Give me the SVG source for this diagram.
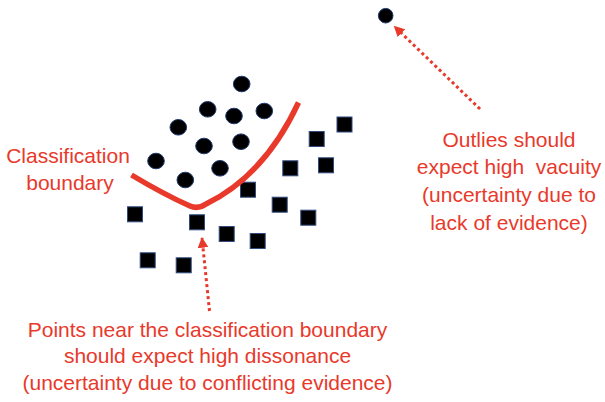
<svg xmlns="http://www.w3.org/2000/svg" width="605" height="402" viewBox="0 0 605 402">
<style>
.c{fill:#000;stroke:#1f3a6e;stroke-width:1}
.s{fill:#000;stroke:#2f4b80;stroke-width:1}
.t{font-family:"Liberation Sans",Arial,sans-serif;font-size:21px;fill:#e8392b;text-anchor:middle}
.d{fill:none;stroke:#e8392b;stroke-width:3;stroke-dasharray:3 3}
</style>
<defs>
<marker id="ah" viewBox="0 0 10 10" refX="9" refY="5" markerWidth="3.6" markerHeight="3.6" orient="auto" markerUnits="strokeWidth">
<path d="M0,0 L10,5 L0,10 z" fill="#e8392b"/>
</marker>
</defs>
<rect width="605" height="402" fill="#fff"/>
<g id="circles">
<ellipse class="c" cx="241.7" cy="84" rx="8.3" ry="7.8"/>
<ellipse class="c" cx="207.7" cy="109.3" rx="8.3" ry="7.8"/>
<ellipse class="c" cx="234" cy="116" rx="8.3" ry="7.8"/>
<ellipse class="c" cx="264.3" cy="111" rx="8.3" ry="7.8"/>
<ellipse class="c" cx="178.3" cy="127.3" rx="8.3" ry="7.8"/>
<ellipse class="c" cx="204" cy="146" rx="8.3" ry="7.8"/>
<ellipse class="c" cx="241" cy="141.7" rx="8.3" ry="7.8"/>
<ellipse class="c" cx="156" cy="161" rx="8.3" ry="7.8"/>
<ellipse class="c" cx="220" cy="168.3" rx="8.3" ry="7.8"/>
<ellipse class="c" cx="185.3" cy="180" rx="8.3" ry="7.8"/>
</g>
<g id="outlier">
<circle class="c" cx="385.7" cy="15.7" r="7.3"/>
</g>
<g id="squares">
<rect class="s" x="337" y="117" width="15" height="15"/>
<rect class="s" x="309.2" y="131.5" width="15" height="15"/>
<rect class="s" x="282.8" y="160.8" width="15" height="15"/>
<rect class="s" x="318.5" y="157.8" width="15" height="15"/>
<rect class="s" x="240.5" y="182.2" width="15" height="15"/>
<rect class="s" x="272.2" y="197.2" width="15" height="15"/>
<rect class="s" x="300.8" y="210.2" width="15" height="15"/>
<rect class="s" x="127.5" y="206.8" width="15" height="15"/>
<rect class="s" x="189.5" y="214.8" width="15" height="15"/>
<rect class="s" x="219.2" y="226.5" width="15" height="15"/>
<rect class="s" x="250.2" y="233.5" width="15" height="15"/>
<rect class="s" x="140.2" y="252.8" width="15" height="15"/>
<rect class="s" x="176.2" y="257.8" width="15" height="15"/>
</g>
<g id="boundary">
<path d="M131.5,175 Q165,195 190,206 Q198,209.5 206,204 Q265,175 298.5,102.5" fill="none" stroke="#e8392b" stroke-width="5.5" stroke-linecap="butt"/>
</g>
<g id="connectors">
<path class="d" d="M480,109 L394.5,26.5" marker-end="url(#ah)"/>
<path class="d" d="M209.5,311 L202,238" marker-end="url(#ah)"/>
</g>
<g id="labels">
<text class="t" x="68" y="162.5">Classification</text>
<text class="t" x="70" y="190">boundary</text>
<text class="t" x="509" y="146.5">Outlies should</text>
<text class="t" x="509" y="174.3" xml:space="preserve">expect high  vacuity</text>
<text class="t" x="509" y="202">(uncertainty due to</text>
<text class="t" x="509" y="230">lack of evidence)</text>
<text class="t" x="207.5" y="336.5">Points near the classification boundary</text>
<text class="t" x="207.5" y="363.3">should expect high dissonance</text>
<text class="t" x="207.5" y="390">(uncertainty due to conflicting evidence)</text>
</g>
</svg>
